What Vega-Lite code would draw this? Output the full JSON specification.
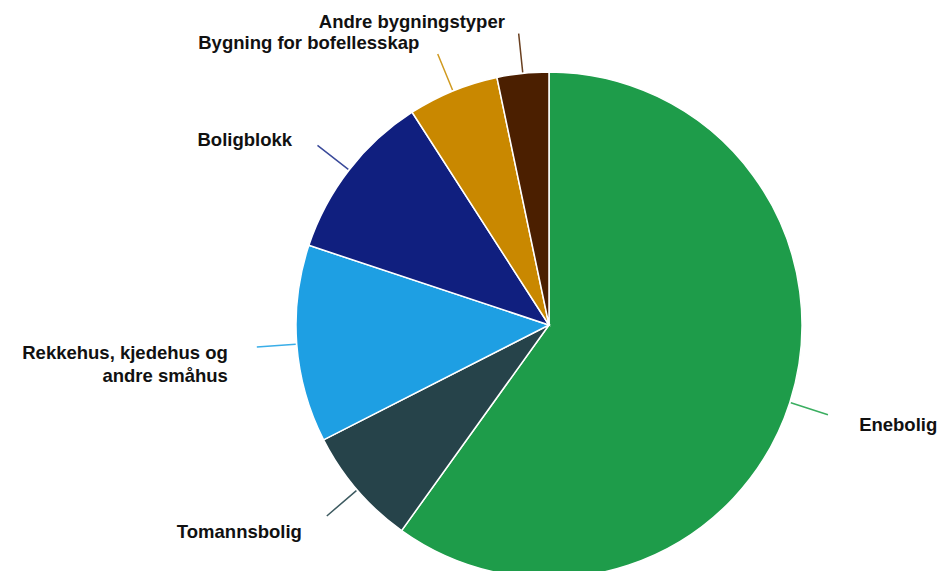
{
  "$schema": "https://vega.github.io/schema/vega-lite/v6.json",
  "autosize": "none",
  "width": 790,
  "height": 492,
  "padding": {"left": 154, "top": 79, "right": 0, "bottom": 0},
  "background": "white",
  "config": {"view": {"stroke": null}},
  "data": {
    "values": [
      {"category": "Enebolig", "label": "Enebolig", "share": 59.9},
      {"category": "Tomannsbolig", "label": "Tomannsbolig", "share": 7.6},
      {"category": "Rekkehus, kjedehus og andre småhus", "label": "Rekkehus, kjedehus og\nandre småhus", "share": 12.6},
      {"category": "Boligblokk", "label": "Boligblokk", "share": 10.8},
      {"category": "Bygning for bofellesskap", "label": "Bygning for bofellesskap", "share": 5.8},
      {"category": "Andre bygningstyper", "label": "Andre bygningstyper", "share": 3.3}
    ]
  },
  "transform": [{"window": [{"op": "row_number", "as": "rank"}]}],
  "encoding": {
    "theta": {"field": "share", "type": "quantitative", "stack": true, "scale": {"domain": [0, 100]}},
    "order": {"field": "rank", "type": "quantitative"},
    "color": {
      "field": "category",
      "type": "nominal",
      "legend": null,
      "scale": {
        "domain": ["Enebolig", "Tomannsbolig", "Rekkehus, kjedehus og andre småhus", "Boligblokk", "Bygning for bofellesskap", "Andre bygningstyper"],
        "range": ["#1e9c4a", "#26434a", "#1e9fe3", "#101f7f", "#c98800", "#4b1f00"]
      }
    }
  },
  "layer": [
    {"mark": {"type": "arc", "radius": 253, "stroke": "white", "strokeWidth": 1.5}},
    {
      "transform": [
        {"stack": "share", "groupby": [], "sort": [{"field": "rank", "order": "ascending"}], "as": ["s0", "s1"]},
        {"calculate": "(datum.s0 + datum.s1) / 2", "as": "mid"}
      ],
      "mark": {"type": "arc", "radius": 293, "radius2": 254, "fillOpacity": 0, "strokeWidth": 1.5},
      "encoding": {
        "theta": {"field": "mid", "type": "quantitative", "stack": null},
        "theta2": {"field": "mid"},
        "color": {"value": null},
        "stroke": {"field": "category", "type": "nominal", "legend": null, "scale": {"domain": ["Enebolig", "Tomannsbolig", "Rekkehus, kjedehus og andre småhus", "Boligblokk", "Bygning for bofellesskap", "Andre bygningstyper"], "range": ["#3aae60", "#3d5a60", "#3aaee8", "#3a4a9a", "#d09a20", "#6a4020"]}}
      }
    },
    {
      "mark": {"type": "text", "radius": 310, "font": "Liberation Sans", "fontWeight": "bold", "fontSize": 18.5, "lineBreak": "\n", "lineHeight": 23, "baseline": "middle", "dy": 5, "align": {"expr": "datum.category === 'Enebolig' ? 'left' : 'right'"}, "dx": {"expr": "datum.category === 'Enebolig' ? 15 : -12"}},
      "encoding": {"text": {"field": "label"}, "color": {"value": "#111111"}}
    }
  ]
}
